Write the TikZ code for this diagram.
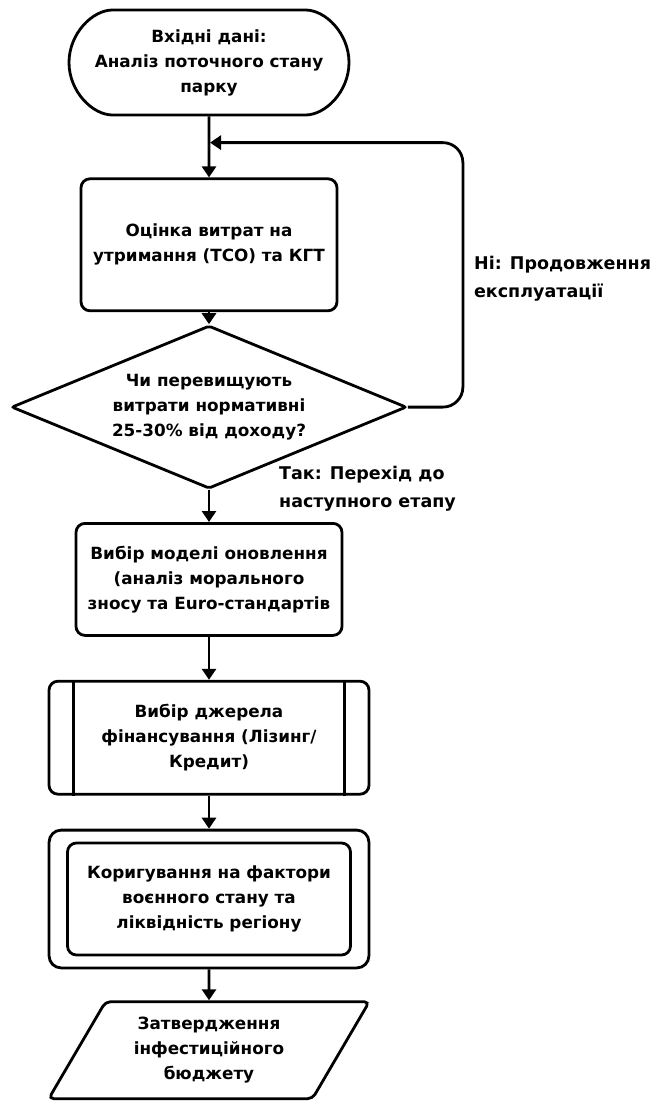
\documentclass[tikz,border=0pt]{standalone}
\usepackage{fontspec}
\setmainfont{DejaVu Sans}
\usetikzlibrary{arrows.meta, positioning, calc, fit, shapes.geometric, shapes.misc}
\tikzset{
    box/.style={rectangle, draw=black, line width=2.8pt, fill=white, rounded corners=9pt, align=center, inner sep=0pt, font=\bfseries\fontsize{16.8}{25}\selectfont},
    startbox/.style={box, rounded rectangle, minimum width=280pt, minimum height=105pt},
    decbox/.style={box, diamond, aspect=2.4, rounded corners=2pt, minimum width=395pt, minimum height=163pt},
    framebox/.style={rectangle, draw=black, line width=2.8pt, rounded corners=12pt, inner xsep=17pt, inner ysep=11.5pt},
    budgetbox/.style={box, trapezium, trapezium left angle=58, trapezium right angle=122, trapezium stretches=true, rounded corners=5pt, minimum width=321pt, minimum height=97pt},
    lbl/.style={align=left, inner sep=0pt, font=\bfseries\fontsize{17.5}{28}\selectfont},
    arrow/.style={-{Triangle[length=11pt, width=14pt]}, line width=2.8pt, draw=black}
}
\begin{document}
\begin{tikzpicture}
    \useasboundingbox (-209pt,62.5pt) rectangle (447pt,-1047.5pt);
    \node[startbox] (start) at (0,0) {Вхідні дані:\\Аналіз поточного стану\\парку};
    \node[box, below=61pt of start, minimum width=256pt, minimum height=132pt] (cost) {Оцінка витрат на\\утримання (ТСО) та КГТ};
    \node[decbox, below=12pt of cost] (dec) {Чи перевищують\\витрати нормативні\\25-30\% від доходу?};
    \node[box, below=32pt of dec, minimum width=266pt, minimum height=112pt] (model) {Вибір моделі оновлення\\(аналіз морального\\зносу та Euro-стандартів};
    \node[box, below=43pt of model, minimum width=320pt, minimum height=113pt] (fund) {Вибір джерела\\фінансування (Лізинг/\\Кредит)};
    \draw[line width=2.8pt] ([xshift=26pt]fund.north west) -- ([xshift=26pt]fund.south west);
    \draw[line width=2.8pt] ([xshift=-26pt]fund.north east) -- ([xshift=-26pt]fund.south east);
    \node[box, below=46pt of fund, minimum width=283pt, minimum height=112pt] (adjust) {Коригування на фактори\\воєнного стану та\\ліквідність регіону};
    \node[framebox, fit=(adjust)] (adjustframe) {};
    \node[budgetbox, below=31pt of adjustframe] (budget) {Затвердження\\інфестиційного\\бюджету};
    % connectors
    \coordinate (join) at ($(start.south)!0.43!(cost.north)$);
    \draw[arrow] (start) -- (cost);
    \draw[arrow] (cost) -- (dec);
    \draw[arrow] (dec) -- (model);
    \draw[arrow] (model) -- (fund);
    \draw[arrow] (fund) -- (adjustframe);
    \draw[arrow] (adjustframe) -- (budget);
    \draw[arrow, rounded corners=20pt] (dec.east) -- ++(55pt,0) |- ([xshift=1pt]join);
    % branch labels
    \node[lbl, anchor=west] (nolbl) at ($(dec.east)+(66pt,128pt)$) {Ні: Продовження\\експлуатації};
    \node[lbl, anchor=west] (yeslbl) at ($(dec.south)+(70pt,1pt)$) {Так: Перехід до\\наступного етапу};
\end{tikzpicture}
\end{document}
